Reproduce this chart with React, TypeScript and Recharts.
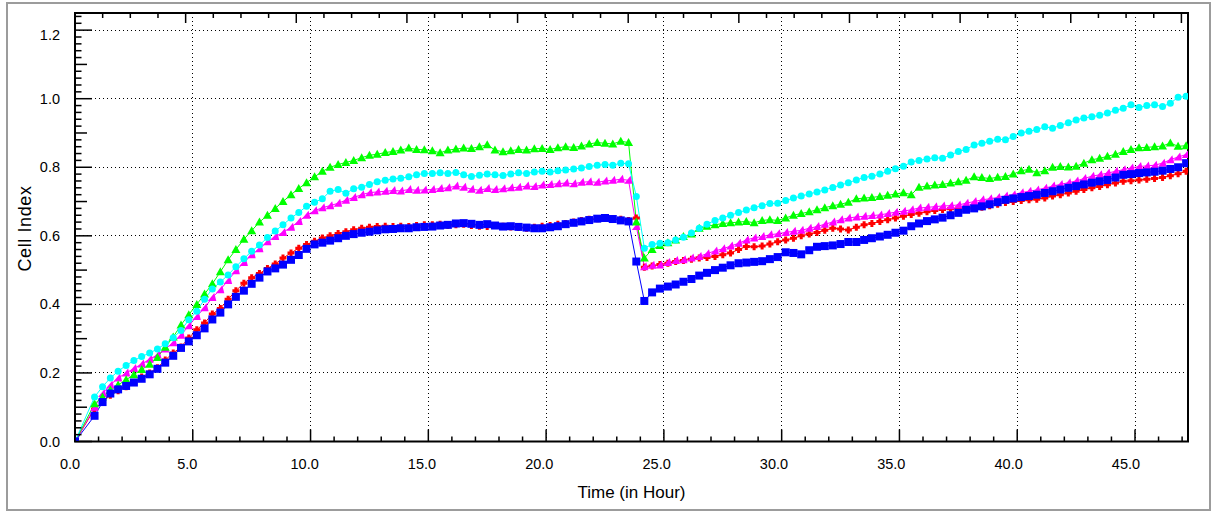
import { LineChart, Line, XAxis, YAxis, ReferenceLine, ReferenceArea } from 'recharts'

// sweep times, hours (one row per hour)
const TIME_H = [
  0, 0.83,
  1.17, 1.5, 1.83, 2.17, 2.5, 2.83, 3.17, 3.5, 3.83, 4.17, 4.5, 4.83,
  5.17, 5.5, 5.83, 6.17, 6.5, 6.83, 7.17, 7.5, 7.83, 8.17, 8.5, 8.83,
  9.17, 9.5, 9.83, 10.17, 10.5, 10.83, 11.17, 11.5, 11.83, 12.17, 12.5, 12.83,
  13.17, 13.5, 13.83, 14.17, 14.5, 14.83, 15.17, 15.5, 15.83, 16.17, 16.5, 16.83,
  17.17, 17.5, 17.83, 18.17, 18.5, 18.83, 19.17, 19.5, 19.83, 20.17, 20.5, 20.83,
  21.17, 21.5, 21.83, 22.17, 22.5, 22.83, 23.17, 23.5, 23.83,
  24.17, 24.5, 24.83, 25.17, 25.5, 25.83, 26.17, 26.5, 26.83, 27.17, 27.5, 27.83,
  28.17, 28.5, 28.83, 29.17, 29.5, 29.83, 30.17, 30.5, 30.83, 31.17, 31.5, 31.83,
  32.17, 32.5, 32.83, 33.17, 33.5, 33.83, 34.17, 34.5, 34.83, 35.17, 35.5, 35.83,
  36.17, 36.5, 36.83, 37.17, 37.5, 37.83, 38.17, 38.5, 38.83, 39.17, 39.5, 39.83,
  40.17, 40.5, 40.83, 41.17, 41.5, 41.83, 42.17, 42.5, 42.83, 43.17, 43.5, 43.83,
  44.17, 44.5, 44.83, 45.17, 45.5, 45.83, 46.17, 46.5, 46.83,
  47.17,
]

const RED = [
  0, 0.095,
  0.115, 0.135, 0.148, 0.16, 0.172, 0.188, 0.2, 0.215, 0.238, 0.258, 0.276, 0.302,
  0.326, 0.346, 0.372, 0.388, 0.415, 0.44, 0.462, 0.478, 0.49, 0.505, 0.518, 0.535,
  0.55, 0.564, 0.575, 0.584, 0.594, 0.6, 0.607, 0.612, 0.618, 0.622, 0.625, 0.627,
  0.628, 0.627, 0.628, 0.627, 0.63, 0.632, 0.632, 0.634, 0.63, 0.632, 0.634, 0.63,
  0.628, 0.627, 0.63, 0.628, 0.626, 0.624, 0.622, 0.625, 0.628, 0.63, 0.634, 0.636,
  0.64, 0.645, 0.648, 0.65, 0.652, 0.65, 0.648, 0.645, 0.652,
  0.508, 0.512, 0.516, 0.52, 0.525, 0.528, 0.532, 0.535, 0.537, 0.54, 0.545, 0.55,
  0.56, 0.569, 0.568, 0.57, 0.576, 0.583, 0.588, 0.593, 0.6, 0.605, 0.61, 0.616,
  0.622, 0.62, 0.617, 0.625, 0.632, 0.636, 0.642, 0.647, 0.652, 0.657, 0.662, 0.666,
  0.67, 0.674, 0.677, 0.679, 0.681, 0.682, 0.681, 0.683, 0.688, 0.692, 0.697, 0.7,
  0.703, 0.705, 0.707, 0.71, 0.716, 0.72, 0.725, 0.73, 0.735, 0.74, 0.744, 0.749,
  0.754, 0.759, 0.761, 0.763, 0.765, 0.767, 0.77, 0.775, 0.781,
  0.788,
]

const MAGENTA = [
  0, 0.1,
  0.14, 0.165, 0.185, 0.2, 0.213, 0.226, 0.24, 0.253, 0.27, 0.288, 0.31, 0.338,
  0.365, 0.39, 0.42, 0.443, 0.47, 0.498, 0.522, 0.545, 0.562, 0.583, 0.598, 0.61,
  0.625, 0.642, 0.66, 0.673, 0.682, 0.688, 0.695, 0.704, 0.712, 0.72, 0.726, 0.728,
  0.73, 0.732, 0.731, 0.735, 0.733, 0.734, 0.735, 0.738, 0.74, 0.745, 0.742, 0.736,
  0.733, 0.738, 0.735, 0.737, 0.74, 0.742, 0.745, 0.744, 0.748, 0.75, 0.752, 0.754,
  0.752, 0.756, 0.758, 0.756, 0.76, 0.762, 0.765, 0.762, 0.627,
  0.51, 0.514, 0.515, 0.522, 0.528, 0.53, 0.535, 0.54, 0.548, 0.556, 0.562, 0.57,
  0.578, 0.588, 0.594, 0.598, 0.603, 0.606, 0.61, 0.613, 0.616, 0.622, 0.627, 0.634,
  0.64, 0.647, 0.652, 0.655, 0.657, 0.659, 0.661, 0.665, 0.669, 0.672, 0.676, 0.681,
  0.683, 0.685, 0.687, 0.688, 0.69, 0.695, 0.7, 0.705, 0.708, 0.712, 0.716, 0.72,
  0.726, 0.73, 0.734, 0.739, 0.745, 0.75, 0.755, 0.76, 0.767, 0.774, 0.778, 0.783,
  0.788, 0.793, 0.798, 0.802, 0.804, 0.806, 0.812, 0.822, 0.83,
  0.837,
]

const GREEN = [
  0, 0.11,
  0.13, 0.15, 0.165, 0.18, 0.195, 0.21, 0.225, 0.245, 0.275, 0.305, 0.34, 0.37,
  0.4, 0.43, 0.46, 0.495, 0.53, 0.56, 0.59, 0.615, 0.64, 0.66, 0.68, 0.7,
  0.72, 0.738, 0.755, 0.772, 0.788, 0.8, 0.808, 0.814, 0.82, 0.828, 0.835, 0.838,
  0.843, 0.846, 0.85, 0.856, 0.852, 0.851, 0.848, 0.842, 0.85, 0.853, 0.856, 0.855,
  0.86, 0.866, 0.85, 0.845, 0.848, 0.852, 0.85, 0.854, 0.855, 0.852, 0.857, 0.86,
  0.858, 0.862, 0.868, 0.872, 0.87, 0.868, 0.876, 0.872, 0.64,
  0.535, 0.56, 0.572, 0.58, 0.588, 0.598, 0.605, 0.622, 0.628, 0.632, 0.636, 0.638,
  0.64, 0.642, 0.638, 0.645, 0.647, 0.645, 0.652, 0.66, 0.665, 0.67, 0.676, 0.682,
  0.688, 0.692, 0.698, 0.708, 0.71, 0.712, 0.715, 0.718, 0.722, 0.726, 0.72, 0.742,
  0.745, 0.748, 0.75, 0.754, 0.758, 0.762, 0.772, 0.77, 0.767, 0.771, 0.773, 0.78,
  0.79, 0.794, 0.784, 0.79, 0.8, 0.802, 0.801, 0.803, 0.812, 0.822, 0.826, 0.832,
  0.838, 0.846, 0.852, 0.857, 0.858, 0.86, 0.862, 0.871, 0.861,
  0.863,
]

const CYAN = [
  0, 0.13,
  0.16, 0.185, 0.205, 0.222, 0.236, 0.248, 0.258, 0.27, 0.285, 0.303, 0.324, 0.355,
  0.38, 0.415, 0.445, 0.465, 0.486, 0.51, 0.533, 0.555, 0.573, 0.595, 0.614, 0.632,
  0.652, 0.668, 0.686, 0.698, 0.708, 0.73, 0.735, 0.724, 0.737, 0.742, 0.75, 0.758,
  0.762, 0.766, 0.768, 0.772, 0.778, 0.782, 0.782, 0.784, 0.782, 0.785, 0.778, 0.773,
  0.777, 0.78, 0.778, 0.776, 0.78, 0.784, 0.782, 0.786, 0.788, 0.786, 0.79, 0.792,
  0.795, 0.798, 0.802, 0.806, 0.808, 0.806, 0.812, 0.81, 0.715,
  0.564, 0.575, 0.578, 0.58, 0.588, 0.596, 0.608, 0.622, 0.634, 0.645, 0.652, 0.66,
  0.668, 0.675, 0.682, 0.688, 0.694, 0.695, 0.703, 0.71, 0.716, 0.722, 0.728, 0.734,
  0.741, 0.748, 0.755, 0.763, 0.77, 0.774, 0.78, 0.788, 0.796, 0.803, 0.815, 0.82,
  0.824, 0.828, 0.826, 0.836, 0.846, 0.852, 0.865, 0.87, 0.876, 0.882, 0.88, 0.89,
  0.9, 0.905, 0.91, 0.918, 0.914, 0.922, 0.93, 0.938, 0.944, 0.947, 0.952, 0.958,
  0.966, 0.972, 0.982, 0.974, 0.98, 0.982, 0.977, 0.987, 1.004,
  1.007,
]

const BLUE = [
  0, 0.075,
  0.115, 0.14, 0.152, 0.162, 0.172, 0.183, 0.196, 0.212, 0.23, 0.25, 0.273, 0.292,
  0.31, 0.33, 0.356, 0.376, 0.4, 0.422, 0.44, 0.46, 0.478, 0.496, 0.505, 0.516,
  0.53, 0.544, 0.562, 0.575, 0.58, 0.586, 0.593, 0.6, 0.605, 0.609, 0.612, 0.616,
  0.619, 0.62, 0.622, 0.622, 0.625, 0.626, 0.627, 0.63, 0.632, 0.636, 0.637, 0.635,
  0.632, 0.634, 0.63, 0.627, 0.628, 0.626, 0.624, 0.622, 0.622, 0.625, 0.628, 0.634,
  0.638, 0.642, 0.646, 0.65, 0.652, 0.649, 0.645, 0.642, 0.525,
  0.41, 0.435, 0.446, 0.452, 0.458, 0.466, 0.474, 0.484, 0.492, 0.5, 0.507, 0.514,
  0.52, 0.522, 0.524, 0.526, 0.532, 0.538, 0.552, 0.55, 0.546, 0.558, 0.568, 0.57,
  0.572, 0.576, 0.582, 0.582, 0.588, 0.593, 0.598, 0.603, 0.609, 0.615, 0.628, 0.636,
  0.643, 0.648, 0.653, 0.66, 0.667, 0.676, 0.68, 0.686, 0.692, 0.698, 0.705, 0.709,
  0.713, 0.716, 0.72, 0.725, 0.73, 0.735, 0.74, 0.745, 0.75, 0.755, 0.759, 0.763,
  0.77, 0.778, 0.78, 0.783, 0.785, 0.787, 0.79, 0.795, 0.8,
  0.812,
]

const X_MAJOR = [0, 5, 10, 15, 20, 25, 30, 35, 40, 45]
const Y_MAJOR = [0, 0.2, 0.4, 0.6, 0.8, 1.0, 1.2]
const X_MAX = 47.25
const Y_MAX = 1.25
// the unlabelled top scale: one major division = 4.697 h, four minors per major
const TOP_MAJOR_H = 4.697

// minor tick positions
const X_TICKS = Array.from({ length: 48 }, (_, i) => i)
const Y_TICKS = Array.from({ length: 63 }, (_, i) => i / 50)
const TOP_TICKS = Array.from({ length: 41 }, (_, i) => (i * TOP_MAJOR_H) / 4)

const data = TIME_H.map((t, i) => ({
  t,
  red: RED[i],
  magenta: MAGENTA[i],
  green: GREEN[i],
  cyan: CYAN[i],
  blue: BLUE[i],
}))

const FONT = '"Liberation Sans", Arial, sans-serif'

type Shape = 'cross' | 'triLean' | 'triUp' | 'circle' | 'square'

function marker(shape: Shape, color: string) {
  return (p: any) => {
    const { cx, cy, index } = p
    if (cx == null || cy == null) return <g key={index} />
    if (shape === 'square')
      return <rect key={index} x={cx - 4} y={cy - 4} width={8} height={8} fill={color} />
    if (shape === 'circle') return <circle key={index} cx={cx} cy={cy} r={3.5} fill={color} />
    if (shape === 'triUp')
      return (
        <polygon
          key={index}
          points={`${cx},${cy - 4.5} ${cx + 4.5},${cy + 3.5} ${cx - 4.5},${cy + 3.5}`}
          fill={color}
        />
      )
    if (shape === 'triLean')
      return (
        <polygon
          key={index}
          points={`${cx + 2},${cy - 4.5} ${cx + 4},${cy + 3.5} ${cx - 4.5},${cy + 3.5}`}
          fill={color}
        />
      )
    return (
      <path
        key={index}
        d={`M${cx - 1.5},${cy - 3.5}h3v2h2v3h-2v2h-3v-2h-2v-3h2z`}
        fill={color}
      />
    )
  }
}

function BottomTick(props: any) {
  const { x, y, payload } = props
  const v = payload.value
  const major = v % 5 === 0
  return (
    <g>
      <line x1={x} x2={x} y1={y} y2={y - (major ? 12 : 5)} stroke="#000" strokeWidth={1.5} />
      {major && (
        <text
          x={x - 5 - v * 0.09}
          y={y + 22}
          dy="0.35em"
          textAnchor="middle"
          fontSize={14.5}
          fontFamily={FONT}
          fill="#000"
        >
          {v.toFixed(1)}
        </text>
      )}
    </g>
  )
}

function LeftTick(props: any) {
  const { x, y, payload } = props
  const k = Math.round(payload.value * 50)
  const len = k % 10 === 0 ? 17 : k % 5 === 0 ? 12 : 6.5
  return (
    <g>
      <line x1={x} x2={x + len} y1={y} y2={y} stroke="#000" strokeWidth={1.5} />
      {k % 10 === 0 && (
        <text
          x={x - 15}
          y={y + (k === 60 ? 5 : 0)}
          dy="0.35em"
          textAnchor="end"
          fontSize={14.5}
          fontFamily={FONT}
          fill="#000"
        >
          {(k / 50).toFixed(1)}
        </text>
      )}
    </g>
  )
}

function TopTick(props: any) {
  const { x, y, index } = props
  const major = index % 4 === 0
  return <line x1={x} x2={x} y1={y} y2={y + (major ? 10 : 5)} stroke="#000" strokeWidth={1.5} />
}

const SERIES: { key: string; color: string; shape: Shape }[] = [
  { key: 'red', color: '#ff0000', shape: 'cross' },
  { key: 'magenta', color: '#ff00ff', shape: 'triLean' },
  { key: 'green', color: '#00ff00', shape: 'triUp' },
  { key: 'cyan', color: '#00ffff', shape: 'circle' },
  { key: 'blue', color: '#0000ff', shape: 'square' },
]

export default function App() {
  return (
    <div style={{ position: 'absolute', left: 0, top: 0, width: 1216, height: 514, background: '#fff' }}>
      <div
        style={{
          position: 'absolute',
          left: 6,
          top: 2,
          width: 1201,
          height: 505,
          border: '2px solid #9c9c9c',
        }}
      />
      <LineChart
        width={1216}
        height={514}
        data={data}
        margin={{ top: 8, right: 28, bottom: 12.5, left: 15 }}
      >
        <XAxis
          dataKey="t"
          type="number"
          domain={[0, X_MAX]}
          ticks={X_TICKS}
          interval={0}
          allowDataOverflow
          height={60}
          tickSize={0}
          tickMargin={0}
          tickLine={false}
          axisLine={false}
          tick={<BottomTick />}
        />
        <XAxis
          xAxisId="top"
          dataKey="t"
          orientation="top"
          type="number"
          domain={[0, X_MAX]}
          ticks={TOP_TICKS}
          interval={0}
          allowDataOverflow
          height={5}
          tickSize={0}
          tickMargin={0}
          tickLine={false}
          axisLine={false}
          tick={<TopTick />}
        />
        <YAxis
          type="number"
          domain={[0, Y_MAX]}
          ticks={Y_TICKS}
          interval={0}
          allowDataOverflow
          width={60}
          tickSize={0}
          tickMargin={0}
          tickLine={false}
          axisLine={false}
          tick={<LeftTick />}
        />
        {X_MAJOR.filter((v) => v > 0).map((v) => (
          <ReferenceLine
            key={`gx${v}`}
            x={v}
            stroke="#000"
            strokeDasharray="1 3"
            strokeWidth={1}
            shapeRendering="crispEdges"
          />
        ))}
        {Y_MAJOR.filter((v) => v > 0).map((v) => (
          <ReferenceLine
            key={`gy${v}`}
            y={v}
            stroke="#000"
            strokeDasharray="1 3"
            strokeWidth={1}
            shapeRendering="crispEdges"
          />
        ))}
        {SERIES.map((s) => (
          <Line
            key={s.key}
            dataKey={s.key}
            type="linear"
            stroke={s.color}
            strokeWidth={1}
            dot={marker(s.shape, s.color)}
            activeDot={false}
            isAnimationActive={false}
          />
        ))}
        <ReferenceArea
          x1={0}
          x2={X_MAX}
          y1={0}
          y2={Y_MAX}
          fill="none"
          stroke="#000"
          strokeWidth={2}
        />
      </LineChart>
      <div
        style={{
          position: 'absolute',
          left: 0,
          top: 0,
          width: 1216,
          textAlign: 'center',
          fontFamily: FONT,
          fontSize: 17,
          color: '#000',
        }}
      >
        <div style={{ position: 'absolute', left: 431.5, top: 483, width: 400, textAlign: 'center' }}>
          Time (in Hour)
        </div>
        <div
          style={{
            position: 'absolute',
            left: 25 - 100,
            top: 229 - 11,
            width: 200,
            textAlign: 'center',
            fontSize: 18,
            letterSpacing: 0.6,
            transform: 'rotate(-90deg)',
          }}
        >
          Cell Index
        </div>
      </div>
    </div>
  )
}
